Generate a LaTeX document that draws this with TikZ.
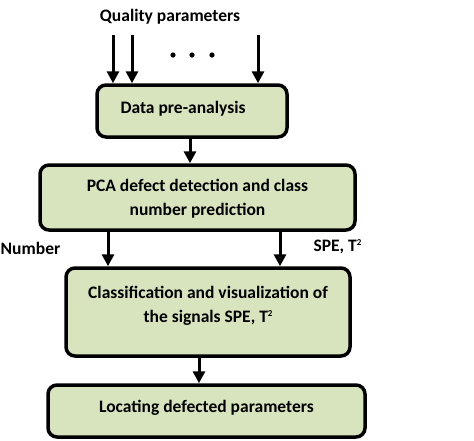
\documentclass[tikz,border=0pt]{standalone}
\usepackage{fontspec}
\setmainfont{Carlito}
\usetikzlibrary{arrows.meta}
\definecolor{boxfill}{HTML}{D7E4BD}
\newcommand{\sqsup}{\raisebox{0.75ex}{\fontsize{9}{9}\selectfont 2}}
\begin{document}
\begin{tikzpicture}[x=1pt,y=-1pt,
  box/.style={draw=black,line width=3.5pt,rounded corners=9pt,fill=boxfill,inner sep=0pt},
  lbl/.style={font=\bfseries\fontsize{17.5}{24}\selectfont,align=center},
  arr/.style={line width=3pt,-{Triangle[length=12pt,width=12pt]}}]
\useasboundingbox (0,0) rectangle (474,440);
% boxes
\node[box,minimum width=190pt,minimum height=52pt] (b1) at (192,111) {};
\node[lbl,anchor=west] (t1) at (117,109) {Data pre-analysis};
\node[box,minimum width=315pt,minimum height=65pt] (b2) at (197.5,197.5) {};
\node[lbl] (t2) at (197.5,199) {PCA defect detection and class\\number prediction};
\node[box,minimum width=284pt,minimum height=88pt] (b3) at (208,312) {};
\node[lbl] (t3) at (208,306) {Classification and visualization of\\the signals SPE, T\sqsup};
\node[box,minimum width=317pt,minimum height=52pt] (b4) at (206.5,411) {};
\node[lbl] (t4) at (206.5,408) {Locating defected parameters};
% top
\node[lbl] (q) at (170,17) {Quality parameters};
\coordinate (i1) at (113,35);
\coordinate (i2) at (132,35);
\coordinate (i3) at (258,35);
\draw[arr] (i1) -- (i1 |- b1.north);
\draw[arr] (i2) -- (i2 |- b1.north);
\draw[arr] (i3) -- (i3 |- b1.north);
\fill (173,55) circle (2.6pt) (192,55) circle (2.6pt) (212,55) circle (2.6pt);
% connectors
\draw[arr] (b1.south -| 190,0) -- (b2.north -| 190,0);
\draw[arr] (b2.south -| 108,0) -- (b3.north -| 108,0);
\draw[arr] (b2.south -| 280,0) -- (b3.north -| 280,0);
\draw[arr] (b3.south -| 199,0) -- (b4.north -| 199,0);
\node[lbl,anchor=west,inner xsep=0pt] (n) at (0.5,248) {Number};
\node[lbl,anchor=west] (s) at (310,247) {SPE, T\sqsup};
\end{tikzpicture}
\end{document}
